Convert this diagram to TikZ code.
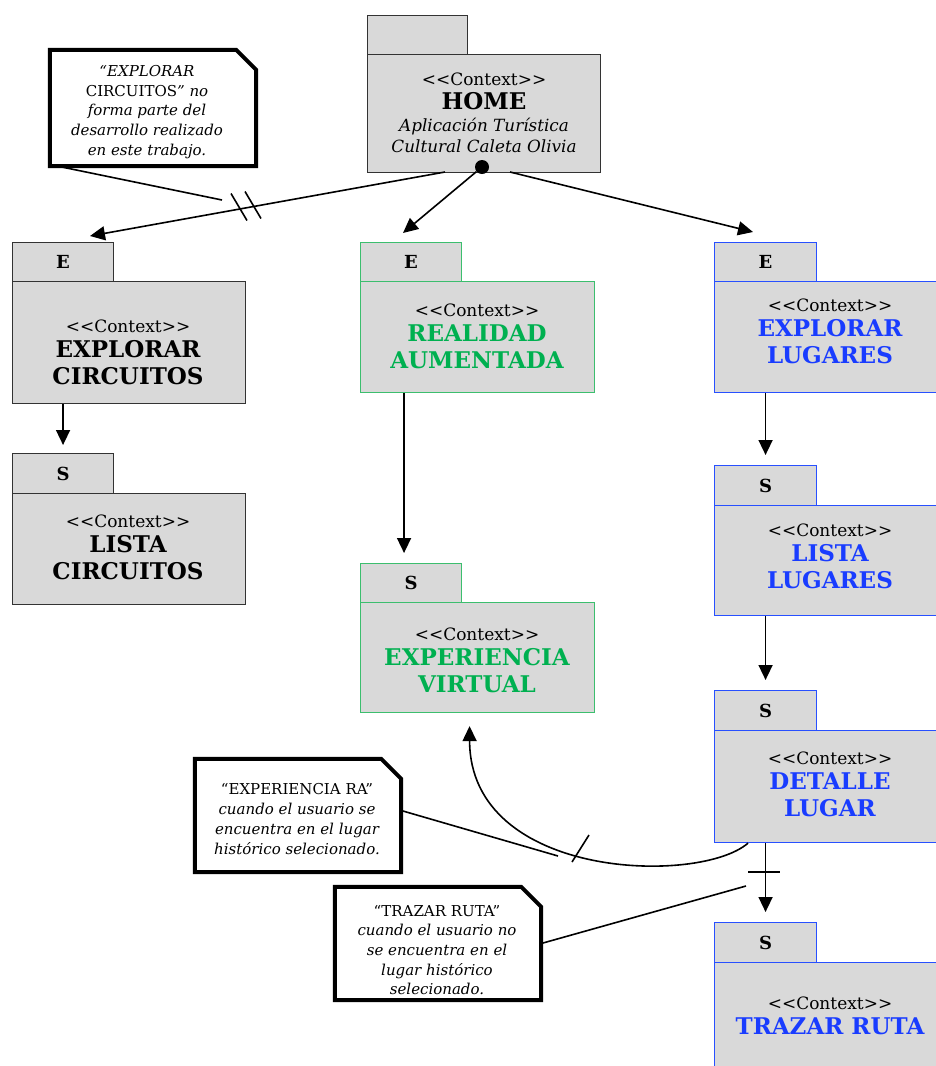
\documentclass[tikz,border=0pt]{standalone}
\usepackage{fontspec}
\setmainfont{DejaVu Serif}
\usetikzlibrary{arrows.meta}
\definecolor{boxgray}{RGB}{217,217,217}
\definecolor{gborder}{RGB}{60,190,110}
\definecolor{gtext}{RGB}{0,176,80}
\definecolor{bborder}{RGB}{40,80,255}
\definecolor{btext}{RGB}{25,60,255}
\newcommand\ctxf{\mdseries\upshape\fontsize{17}{20}\selectfont}
\newcommand\ctxlabel{<\kern0pt<Context>\kern0pt>}
\newcommand\ttlf{\bfseries\fontsize{23}{27}\selectfont}
\newcommand\notef{\itshape\fontsize{15}{19.7}\selectfont}
\begin{document}
\begin{tikzpicture}[x=1pt,y=-1pt,
  pkg/.style={draw=#1, fill=boxgray, line width=1.1pt, anchor=north west, inner sep=0pt},
  tabtxt/.style={font=\bfseries\fontsize{18}{18}\selectfont},
  txt/.style={align=center, inner sep=0pt, font=\ttlf},
  conn/.style={line width=1.6pt},
  arr/.style={conn, -{Triangle[width=14pt,length=15pt]}},
  noteline/.style={line width=4pt},
  notebox/.style={inner sep=0pt},
  notetxt/.style={align=center, inner sep=0pt, font=\notef}]
\useasboundingbox (0,0) rectangle (936,1066);
\clip (0,0) rectangle (936,1066);

% ---------- HOME ----------
\node[pkg=black!80, minimum width=100pt, minimum height=39pt] (ht) at (367,15) {};
\node[pkg=black!80, minimum width=233pt, minimum height=118pt] (hb) at (367,54) {};
\node[txt, font=\fontsize{16.8}{21}\selectfont] (hx) at (484,113)
  {{\ctxf \ctxlabel}\\[3pt]{\bfseries\fontsize{23}{23}\selectfont HOME}\\[1pt]{\itshape Aplicación Turística}\\{\itshape Cultural Caleta Olivia}};
\node[circle, fill=black, inner sep=0pt, minimum size=14pt] (dot) at (482,167) {};

% ---------- left column ----------
\node[pkg=black!80, minimum width=101pt, minimum height=39pt, tabtxt] (ect) at (12,242) {E};
\node[pkg=black!80, minimum width=233pt, minimum height=122pt] (ecb) at (12,281) {};
\node[txt] (ecx) at (128,352) {{\ctxf \ctxlabel}\\[-2pt]EXPLORAR\\CIRCUITOS};

\node[pkg=black!80, minimum width=101pt, minimum height=40pt, tabtxt] (lct) at (12,453) {S};
\node[pkg=black!80, minimum width=233pt, minimum height=111pt] (lcb) at (12,493) {};
\node[txt] (lcx) at (128,547) {{\ctxf \ctxlabel}\\[-2pt]LISTA\\CIRCUITOS};

% ---------- middle column ----------
\node[pkg=gborder, minimum width=101pt, minimum height=39pt, tabtxt] (rat) at (360,242) {E};
\node[pkg=gborder, minimum width=234pt, minimum height=111pt] (rab) at (360,281) {};
\node[txt, text=gtext] (rax) at (477,336) {{\ctxf\color{black} \ctxlabel}\\[-2pt]REALIDAD\\AUMENTADA};

\node[pkg=gborder, minimum width=101pt, minimum height=39pt, tabtxt] (evt) at (360,563) {S};
\node[pkg=gborder, minimum width=234pt, minimum height=110pt] (evb) at (360,602) {};
\node[txt, text=gtext] (evx) at (477,660) {{\ctxf\color{black} \ctxlabel}\\[-2pt]EXPERIENCIA\\VIRTUAL};

% ---------- right column ----------
\node[pkg=bborder, minimum width=102pt, minimum height=39pt, tabtxt] (elt) at (714,242) {E};
\node[pkg=bborder, minimum width=232pt, minimum height=111pt] (elb) at (714,281) {};
\node[txt, text=btext] (elx) at (830,331) {{\ctxf\color{black} \ctxlabel}\\[-2pt]EXPLORAR\\LUGARES};

\node[pkg=bborder, minimum width=102pt, minimum height=40pt, tabtxt] (llt) at (714,465) {S};
\node[pkg=bborder, minimum width=232pt, minimum height=110pt] (llb) at (714,505) {};
\node[txt, text=btext] (llx) at (830,556) {{\ctxf\color{black} \ctxlabel}\\[-2pt]LISTA\\LUGARES};

\node[pkg=bborder, minimum width=102pt, minimum height=40pt, tabtxt] (dlt) at (714,690) {S};
\node[pkg=bborder, minimum width=232pt, minimum height=112pt] (dlb) at (714,730) {};
\node[txt, text=btext] (dlx) at (830,784) {{\ctxf\color{black} \ctxlabel}\\[-2pt]DETALLE\\LUGAR};

\node[pkg=bborder, minimum width=102pt, minimum height=40pt, tabtxt] (trt) at (714,922) {S};
\node[pkg=bborder, minimum width=232pt, minimum height=150pt] (trb) at (714,962) {};
\node[txt, text=btext] (trx) at (830,1016) {{\ctxf\color{black} \ctxlabel}\\[-2pt]TRAZAR RUTA};

% ---------- notes ----------
\node[notebox, minimum width=206pt, minimum height=116pt] (n1) at (153,108) {};
\draw[noteline] (n1.south west) -- (n1.north west) -- ([xshift=-20pt]n1.north east)
  -- ([yshift=-20pt]n1.north east) -- (n1.south east) -- cycle;
\node[notetxt] (n1x) at (147,112) {“EXPLORAR\\{\upshape CIRCUITOS}” no\\forma parte del\\desarrollo realizado\\en este trabajo.};

\node[notebox, minimum width=206pt, minimum height=113pt] (n2) at (298,815.5) {};
\draw[noteline] (n2.south west) -- (n2.north west) -- ([xshift=-20pt]n2.north east)
  -- ([yshift=-20pt]n2.north east) -- (n2.south east) -- cycle;
\node[notetxt] (n2x) at (297,819) {{\upshape “EXPERIENCIA RA”}\\cuando el usuario se\\encuentra en el lugar\\histórico selecionado.};

\node[notebox, minimum width=206pt, minimum height=113pt] (n3) at (438,943.5) {};
\draw[noteline] (n3.south west) -- (n3.north west) -- ([xshift=-20pt]n3.north east)
  -- ([yshift=-20pt]n3.north east) -- (n3.south east) -- cycle;
\node[notetxt] (n3x) at (437,950) {{\upshape “TRAZAR RUTA”}\\cuando el usuario no\\se encuentra en el\\lugar histórico\\selecionado.};

% ---------- connectors from HOME ----------
\coordinate (hs1) at (445,172);
\coordinate (hs3) at (510,172);
\coordinate (lt) at (90,236);
\draw[arr] (hs1) -- (lt);
\draw[arr] (dot) -- ([shift={(43,-9)}]rat.north west);
\draw[arr] (hs3) -- ([shift={(39,-10)}]elt.north west);
% double slash on left arrow
\coordinate (s1) at (239,207);
\coordinate (s2) at (253,205);
\draw[conn] (s1) ++(-8,-13.5) -- ++(16,27);
\draw[conn] (s2) ++(-8,-13.5) -- ++(16,27);
% note 1 connector
\coordinate (n1e) at (222,200);
\draw[conn] ([xshift=8pt]n1.south west) -- (n1e);

% ---------- vertical flows ----------
\draw[arr] (ecb.south -| ect.center) -- ([yshift=8pt]lct.north -| ect.center);
\draw[arr] ([xshift=-7pt]rab.south -| rat.center) -- ([xshift=-7pt,yshift=10pt]evt.north -| rat.center);
\draw[arr] (elb.south -| elt.center) -- ([yshift=10pt]llt.north -| elt.center);
\draw[arr] (llb.south -| llt.center) -- ([yshift=10pt]dlt.north -| llt.center);
\draw[arr] (dlb.south -| dlt.center) -- ([yshift=10pt]trt.north -| dlt.center);
\coordinate (cb) at (765,872);
\draw[conn] ([xshift=-17pt]cb) -- ([xshift=15pt]cb);

% ---------- curved flow to EXPERIENCIA VIRTUAL ----------
\draw[arr] ([xshift=34pt]dlb.south west) .. controls (700,885) and (470,880) .. ([shift={(-8,13)}]evb.south);
\coordinate (ck) at (580,849);
\draw[conn] (ck) ++(-8,13) -- ++(17,-27);

% ---------- note connectors ----------
\coordinate (n2e) at (558,856);
\draw[conn] ([yshift=5pt]n2.east) -- (n2e);
\coordinate (n3e) at (746,886);
\draw[conn] (n3.east) -- (n3e);
\end{tikzpicture}
\end{document}
